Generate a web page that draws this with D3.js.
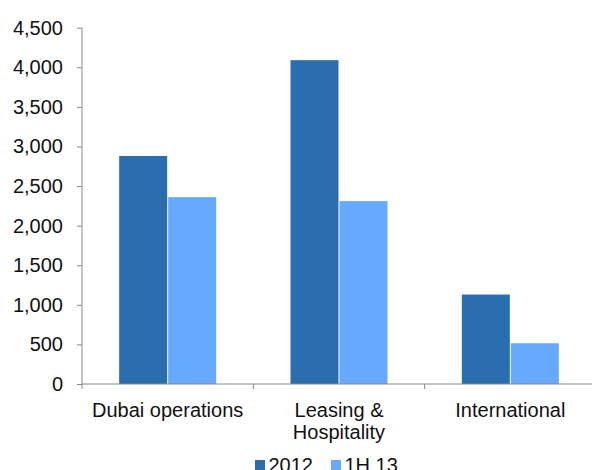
<!DOCTYPE html>
<html><head><meta charset="utf-8">
<script src="https://cdn.jsdelivr.net/npm/d3@7"></script>
<style>body{margin:0;background:#fff;}svg{display:block;font-family:"Liberation Sans",Arial,sans-serif;}</style>
</head><body>
<svg id="c" width="592" height="470"></svg>
<script>
const categories = [["Dubai operations"], ["Leasing &", "Hospitality"], ["International"]];
const seriesNames = ["2012", "1H 13"];
const values2012 = [2880, 4090, 1130];
const values1H13 = [2360, 2310, 515];
const yTicks = [0, 500, 1000, 1500, 2000, 2500, 3000, 3500, 4000, 4500];
const colors = ["#2a6eb0", "#66aaff"];

const svg = d3.select("#c");
const x0 = 82, x1 = 596, yTop = 27.7, yBot = 384;
const fs = 20;
const x = d3.scaleBand().domain(d3.range(categories.length)).range([x0, x1]).padding(0);
const y = d3.scaleLinear().domain([0, 4500]).range([yBot, yTop]);
const series = [values2012, values1H13];
const bw = 48, gap = 1;

series.forEach((vals, si) => {
  svg.append("g").selectAll("rect").data(vals).join("rect")
    .attr("x", (d, i) => x(i) + x.bandwidth() / 2 - bw - gap / 2 + si * (bw + gap))
    .attr("y", d => y(d))
    .attr("width", bw)
    .attr("height", d => yBot - y(d))
    .attr("fill", colors[si]);
});

// y axis
const ya = svg.append("g").attr("transform", `translate(${x0},0)`)
  .call(d3.axisLeft(y).tickValues(yTicks).tickSize(5).tickPadding(14).tickFormat(d3.format(",")));
ya.select(".domain").attr("stroke", "#888").attr("d", `M0,${yTop}V${yBot}`);
ya.selectAll(".tick line").attr("stroke", "#888");
ya.selectAll(".tick text").attr("font-size", fs).attr("fill", "#111").attr("font-family", "Liberation Sans, Arial, sans-serif");

// x axis line
svg.append("line").attr("x1", x0).attr("x2", 592).attr("y1", yBot).attr("y2", yBot).attr("stroke", "#888");
const bounds = d3.range(categories.length + 1).map(i => x0 + i * x.bandwidth()).filter(v => v < 592);
svg.selectAll(".xt").data(bounds).join("line").attr("class", "xt")
  .attr("x1", d => d).attr("x2", d => d).attr("y1", yBot).attr("y2", yBot + 5).attr("stroke", "#888");

// category labels
categories.forEach((lines, i) => {
  const t = svg.append("text").attr("text-anchor", "middle").attr("font-size", fs).attr("fill", "#111");
  lines.forEach((ln, j) => {
    t.append("tspan").attr("x", x(i) + x.bandwidth() / 2).attr("y", 417 + j * 22).text(ln);
  });
});

// legend
const legX = [255, 331];
seriesNames.forEach((n, i) => {
  svg.append("rect").attr("x", legX[i]).attr("y", 460).attr("width", 10).attr("height", 10).attr("fill", colors[i]);
  svg.append("text").attr("x", legX[i] + 13.5).attr("y", 471.5).attr("font-size", fs).attr("fill", "#111").text(n);
});
</script>
</body></html>
